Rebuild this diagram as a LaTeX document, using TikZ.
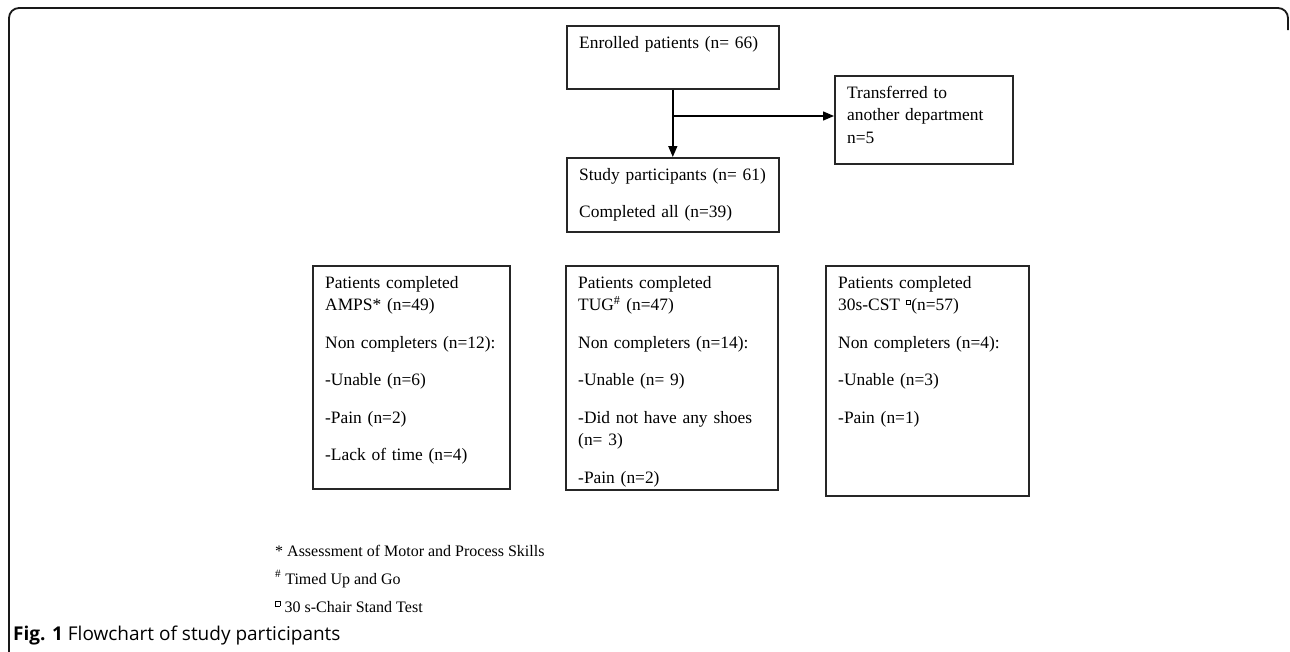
\documentclass[tikz,border=0pt]{standalone}
\usepackage{fontspec}
\setmainfont{Liberation Serif}
\newfontfamily\capfont{Open Sans}
\usetikzlibrary{arrows.meta}
\newcommand{\sqmark}{{\setlength\fboxsep{0pt}\setlength\fboxrule{0.5pt}\fbox{\rule{0pt}{4pt}\rule{4pt}{0pt}}}}
\begin{document}
\begin{tikzpicture}[x=1pt,y=-1pt,
  box/.style={draw=black!85,line width=1.6pt,anchor=north west,inner sep=0pt},
  txt/.style={anchor=base west,inner sep=0pt,text width=200pt,align=left,
    font=\fontsize{17.4}{22.5}\selectfont},
  foot/.style={anchor=base west,inner sep=0pt,font=\fontsize{16}{19}\selectfont},
  arr/.style={line width=1.4pt,-{Triangle[length=11pt,width=9pt]}}]
\useasboundingbox (0,0) rectangle (1290,651);
\clip (0,0) rectangle (1290,651);
% outer frame
\draw[line width=1.8pt,black!90,rounded corners=10pt] (9,660) -- (9,8) -- (1288,8) -- (1288,30);
% boxes
\node[box,minimum width=212pt,minimum height=63pt] (enr) at (566,25) {};
\node[box,minimum width=178pt,minimum height=88pt] (trans) at (834,75) {};
\node[box,minimum width=212pt,minimum height=74pt] (study) at (566,157) {};
\node[box,minimum width=197pt,minimum height=223pt] (amps) at (312,265) {};
\node[box,minimum width=212pt,minimum height=224pt] (tug) at (565,265) {};
\node[box,minimum width=203pt,minimum height=230pt] (cst) at (825,265) {};
% texts
\node[txt] (tenr) at ([shift={(13,23)}]enr.north west) {Enrolled patients (n= 66)};
\node[txt] (ttrans) at ([shift={(13,23)}]trans.north west) {Transferred to\\another department\\n=5};
\node[txt] (tstudy) at ([shift={(13,23)}]study.north west) {Study participants (n= 61)\\[15pt]Completed all (n=39)};
\node[txt] (tamps) at ([shift={(13,23)}]amps.north west) {Patients completed\\AMPS* (n=49)\\[15pt]Non completers (n=12):\\[15pt]-Unable (n=6)\\[15pt]-Pain (n=2)\\[15pt]-Lack of time (n=4)};
\node[txt] (ttug) at ([shift={(13,23)}]tug.north west) {Patients completed\\TUG\textsuperscript{\#} (n=47)\\[15pt]Non completers (n=14):\\[15pt]-Unable (n= 9)\\[15pt]-Did not have any shoes\\(n= 3)\\[15pt]-Pain (n=2)};
\node[txt] (tcst) at ([shift={(13,23)}]cst.north west) {Patients completed\\30s-CST \textsuperscript{\sqmark}(n=57)\\[15pt]Non completers (n=4):\\[15pt]-Unable (n=3)\\[15pt]-Pain (n=1)};
% connectors
\coordinate (branch) at (enr.south |- 0,116);
\draw[arr] (enr.south) -- (study.north);
\draw[arr] (branch) -- (trans.west |- branch);
% footnotes
\node[foot] (f1) at (275,556) {* Assessment of Motor and Process Skills};
\node[foot] (f2) at (275,584) {\textsuperscript{\#} Timed Up and Go};
\node[foot] (f3) at (275,612) {\textsuperscript{\sqmark} 30 s-Chair Stand Test};
% caption
\node[anchor=base west,inner sep=0pt,font=\capfont\fontsize{19}{22}\selectfont] (cap) at (13,640) {\textbf{Fig. 1} Flowchart of study participants};
\end{tikzpicture}
\end{document}
